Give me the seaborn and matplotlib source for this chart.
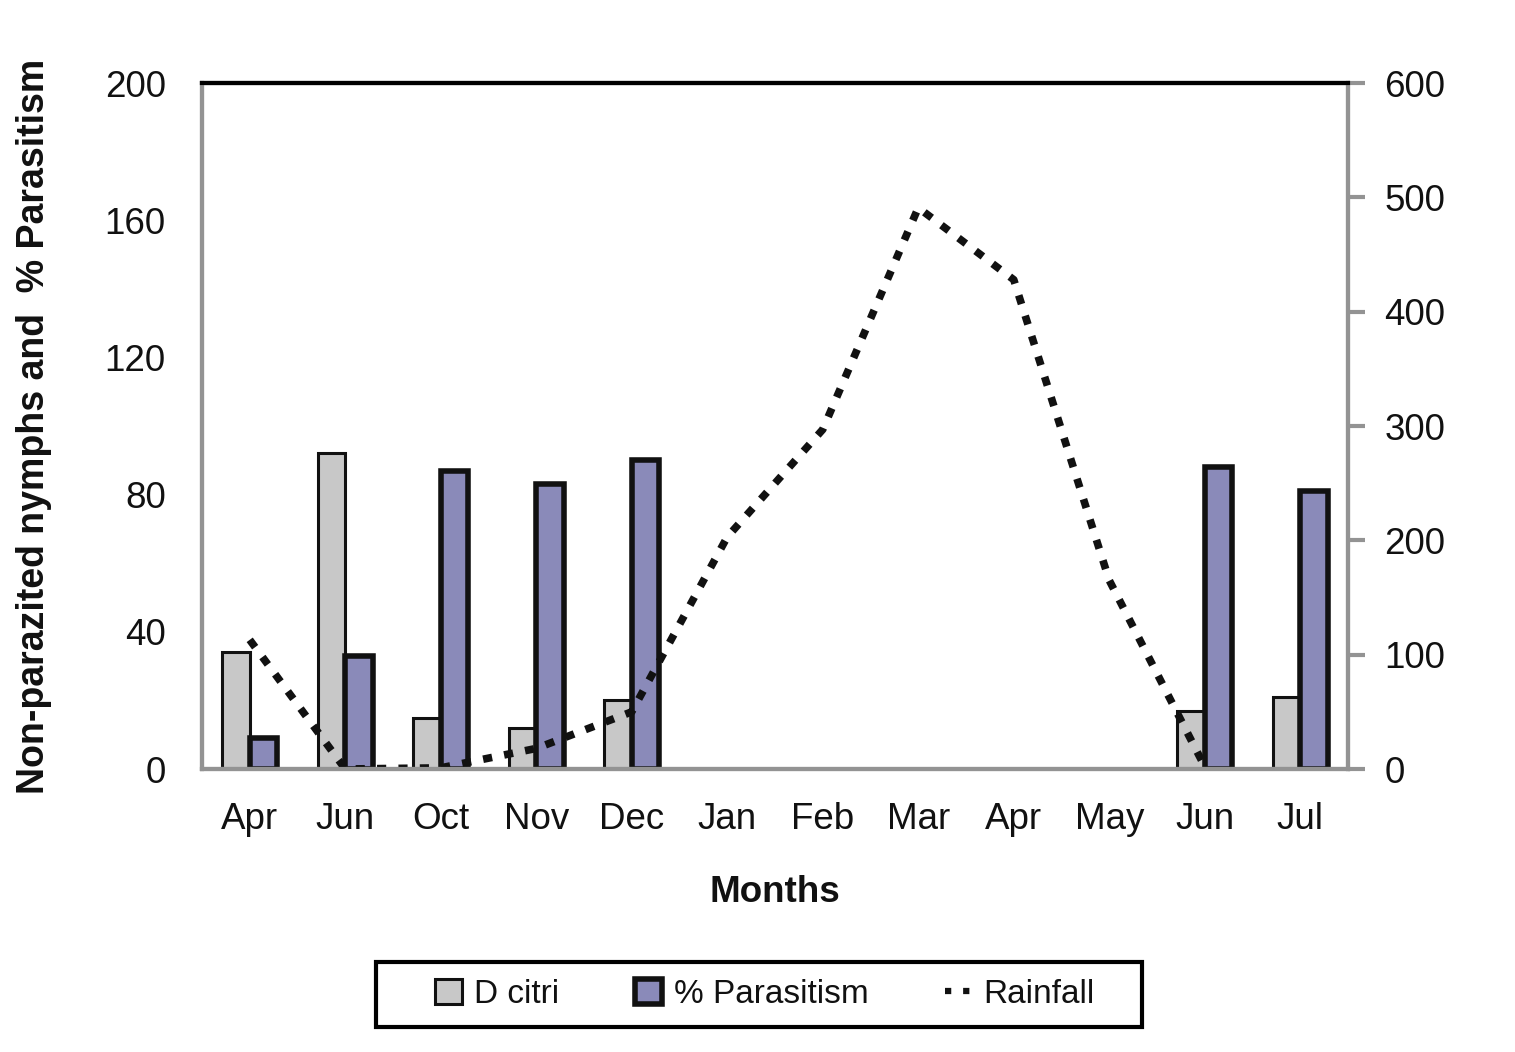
import numpy as np
import pandas as pd
import matplotlib
matplotlib.use("Agg")
import matplotlib.pyplot as plt
import seaborn as sns
from matplotlib.patches import Patch, Rectangle
from matplotlib.lines import Line2D

months = ["Apr", "Jun", "Oct", "Nov", "Dec", "Jan", "Feb", "Mar", "Apr", "May", "Jun", "Jul"]
d_citri = [34, 92, 15, 12, 20, np.nan, np.nan, np.nan, np.nan, np.nan, 17, 21]
parasitism = [9, 33, 87, 83, 90, np.nan, np.nan, np.nan, np.nan, np.nan, 88, 81]
rainfall = [113, 0, 1, 18, 50, 203, 297, 491, 428, 165, 2, np.nan]

sns.set_theme(style="white")
plt.rcParams['font.family'] = ['Liberation Sans', 'DejaVu Sans']

idx = list(range(len(months)))
df = pd.DataFrame({
    "pos": idx * 2,
    "value": d_citri + parasitism,
    "series": ["D citri"] * len(idx) + ["% Parasitism"] * len(idx),
})

fig = plt.figure(figsize=(15.15, 10.52), dpi=100)
ax = fig.add_axes([0.1333, 0.269, 0.7565, 0.652])

gray_c = "#C8C8C8"
purple_c = "#8A8AB9"
spine_c = "#939393"
txt_c = "#111111"

sns.barplot(data=df, x="pos", y="value", hue="series",
            palette={"D citri": gray_c, "% Parasitism": purple_c},
            width=0.58, saturation=1, ax=ax, legend=False)

for cont, lw in zip(ax.containers, [2.2, 4.0]):
    for p in cont:
        p.set_edgecolor(txt_c)
        p.set_linewidth(lw)

ax.set_ylim(0, 200)
ax.set_yticks([0, 40, 80, 120, 160, 200])
ax.set_xlim(-0.5, 11.5)
ax.set_xticks(idx)
ax.set_xticklabels(months)
ax.tick_params(axis="both", length=0, labelsize=26.5, colors=txt_c)
ax.tick_params(axis="x", pad=24)
ax.tick_params(axis="y", pad=26)
ax.set_xlabel("Months", fontsize=26.5, fontweight="bold", labelpad=27,
              color=txt_c)
ax.set_ylabel("Non-parazited nymphs and  % Parasitism", fontsize=27,
              fontweight="bold", labelpad=38, color=txt_c)

ax2 = ax.twinx()
sns.lineplot(x=idx, y=rainfall, ax=ax2, color=txt_c, linewidth=5.5,
             legend=False)
for ln in ax2.lines:
    ln.set_dashes((1.2, 1.6))
    ln.set_dash_capstyle("butt")
ax2.set_ylim(0, 600)
ax2.set_yticks([0, 100, 200, 300, 400, 500, 600])
ax2.tick_params(axis="y", direction="out", length=12, width=3, color=spine_c,
                labelsize=26.5, labelcolor=txt_c, pad=14)
ax2.set_xlim(-0.5, 11.5)

for a in (ax, ax2):
    for side in ["left", "right", "bottom"]:
        a.spines[side].set_color(spine_c)
        a.spines[side].set_linewidth(3)
    a.spines["top"].set_color("black")
    a.spines["top"].set_linewidth(3)

handles = [
    Patch(facecolor=gray_c, edgecolor=txt_c, linewidth=2.2),
    Patch(facecolor=purple_c, edgecolor=txt_c, linewidth=4.0),
    Line2D([0], [0], color=txt_c, linewidth=4.5, dashes=(1.0, 1.9),
           dash_capstyle="butt"),
]
leg = fig.legend(handles, ["D citri", "% Parasitism", "Rainfall"],
                 loc="center", bbox_to_anchor=(0.505, 0.0546), ncol=3,
                 fontsize=24, frameon=False,
                 handlelength=0.8, handleheight=0.8, handletextpad=0.35,
                 columnspacing=2.3, borderpad=0.3)
for t in leg.get_texts():
    t.set_color(txt_c)

fig.patches.append(Rectangle((376 / 1515, 1 - 1027 / 1052), 766 / 1515, 65 / 1052,
                             transform=fig.transFigure, facecolor="none",
                             edgecolor="black", linewidth=3))

fig.savefig("out.png", dpi=100)
